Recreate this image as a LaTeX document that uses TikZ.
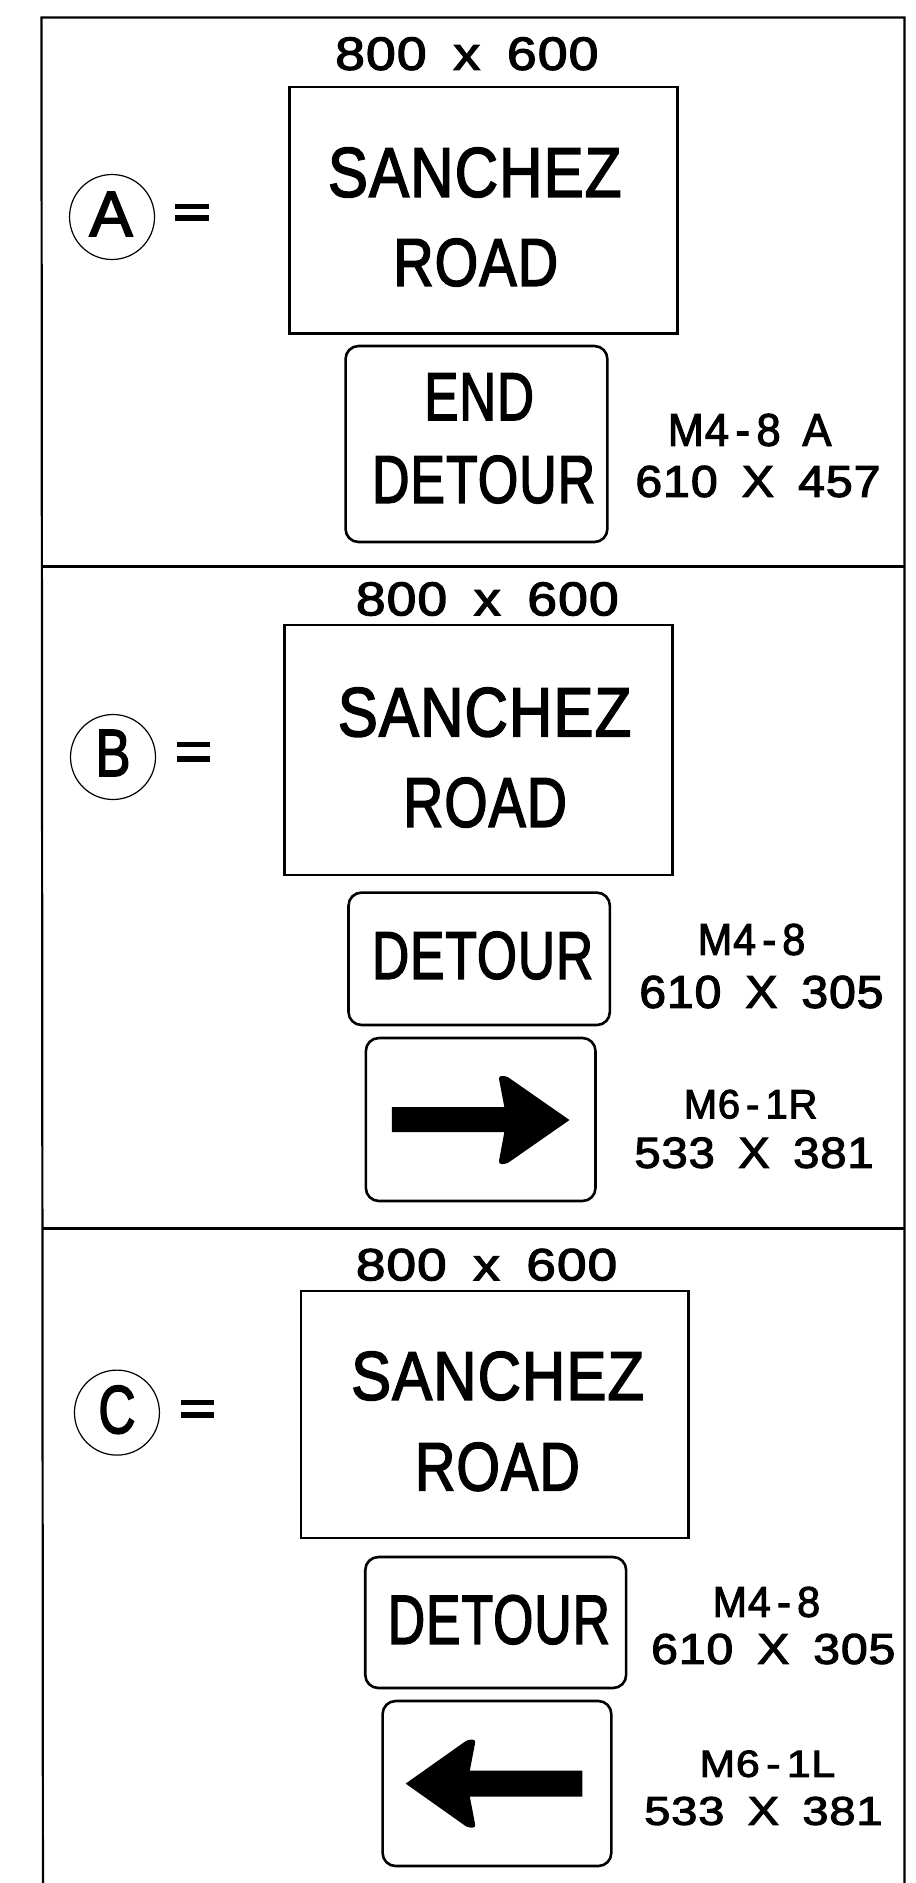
\documentclass[tikz,border=0pt]{standalone}
\usepackage{graphicx}
\usepackage{fontspec}
\setmainfont[FakeBold=2.5,LetterSpace=2]{Liberation Sans}
\newcommand{\lbl}[6]{\node[lab] (#1) at ({(#2+#3)/2+1},{(#4+#5)/2}) {\resizebox{\dimexpr (#3pt-#2pt)*1005/1000\relax}{\dimexpr #5pt-#4pt\relax}{#6}};}
\newcommand{\sgn}[6]{\node[#6,minimum width=\dimexpr (#3pt-#2pt)*990/1000\relax,minimum height=\dimexpr #5pt-#4pt\relax] (#1) at ({(#2+#3)/2},{(#4+#5)/2}) {};}
\newcommand{\gap}{\hspace{0.5em}}
\newcommand{\hy}{\hspace{0.15em}-\hspace{0.15em}}
\tikzset{
  lab/.style={inner sep=0pt,outer sep=0pt,font=\fontsize{40pt}{40pt}\selectfont},
  plate/.style={draw,rectangle,inner sep=0pt,line width=2.8pt},
  roundplate/.style={plate,rounded corners=13pt,line width=2.6pt},
  badge/.style={draw,circle,inner sep=0pt,line width=1.2pt},
  framing/.style={line width=2.2pt,line cap=butt},
  bar/.style={fill=black,draw=none,rectangle,inner sep=0pt},
}
\begin{document}
\begin{tikzpicture}[x=0.987pt,y=-1pt]
\useasboundingbox[fill=white] (0,0) rectangle (928.06,1883);
% frame
\draw[framing] (43.5,1883) -- (42,17.5) -- (916.5,17.5) -- (916.5,1883);
\draw[framing] (42,566.5) -- (916.5,566.5);
\draw[framing] (43,1228.5) -- (916.5,1228.5);

% ---- A
\lbl{dimA}{341}{603}{37.5}{70}{800\gap x\gap 600}
\sgn{plateA}{294}{686}{87}{333.5}{plate}
\lbl{nameA}{334}{626}{148}{197}{SANCHEZ}
\lbl{roadA}{399}{563}{239}{286}{ROAD}
\node[badge,minimum width=85pt] (circA) at (113.5,217) {};
\lbl{letA}{90}{133}{192}{236}{A}
\node[bar,minimum width=34pt,minimum height=5pt] (eqA1) at (195,206.5) {};
\node[bar,minimum width=34pt,minimum height=6pt] (eqA2) at (195,218) {};
\sgn{endA}{350.5}{615}{346}{542}{roundplate}
\lbl{endtA}{430}{539}{373.5}{420}{END}
\lbl{detA}{378}{600}{456}{503}{DETOUR}
\lbl{codeA}{677}{840}{414}{446}{M4\hy 8\gap A}
\lbl{sizeA}{645}{889}{466}{497}{610\gap X\gap 457}

% ---- B
\lbl{dimB}{362}{623.5}{582.5}{615.5}{800\gap x\gap 600}
\sgn{plateB}{288.5}{681}{625}{875}{plate}
\lbl{nameB}{344}{636}{688}{736.5}{SANCHEZ}
\lbl{roadB}{409}{572}{778}{827}{ROAD}
\node[badge,minimum width=85pt] (circB) at (114.5,757) {};
\lbl{letB}{96}{131}{730}{776}{B}
\node[bar,minimum width=33pt,minimum height=5pt] (eqB1) at (196,744.5) {};
\node[bar,minimum width=33pt,minimum height=6pt] (eqB2) at (196,759) {};
\sgn{detbB}{353.5}{617.5}{892.6}{1025}{roundplate}
\lbl{detB}{378}{598}{932}{979}{DETOUR}
\lbl{codeB}{707}{814}{924}{955}{M4\hy 8}
\lbl{sizeB}{649}{892}{976}{1008}{610\gap X\gap 305}
\sgn{arrbB}{371}{603}{1038}{1201}{roundplate}
\fill (397,1107) -- (511,1107) [rounded corners=3pt] -- (505,1076) -- (513,1076) [sharp corners] -- (577,1120) [rounded corners=3pt] -- (513,1164) -- (505,1164) [sharp corners] -- (511,1132) -- (397,1132) -- cycle;
\lbl{codeB2}{693}{826}{1090}{1118.5}{M6\hy 1R}
\lbl{sizeB2}{644}{882}{1137.6}{1168}{533\gap X\gap 381}

% ---- C
\lbl{dimC}{362}{622}{1249}{1280.5}{800\gap x\gap 600}
\sgn{plateC}{305.5}{697}{1291}{1538}{plate}
\lbl{nameC}{357.5}{649}{1352}{1400}{SANCHEZ}
\lbl{roadC}{421}{585}{1443}{1490.6}{ROAD}
\node[badge,minimum width=85pt] (circC) at (118.5,1412.6) {};
\lbl{letC}{99}{136}{1386}{1433.5}{C}
\node[bar,minimum width=33pt,minimum height=5pt] (eqC1) at (200.5,1402.5) {};
\node[bar,minimum width=33pt,minimum height=6pt] (eqC2) at (200.5,1415) {};
\sgn{detbC}{370.5}{634}{1557}{1688}{roundplate}
\lbl{detC}{394}{615}{1595.5}{1644}{DETOUR}
\lbl{codeC}{722}{829}{1587}{1617}{M4\hy 8}
\lbl{sizeC}{661}{904}{1634}{1664}{610\gap X\gap 305}
\sgn{arrbC}{388}{619}{1701}{1866}{roundplate}
\fill (590,1770.6) -- (476,1770.6) [rounded corners=3pt] -- (482,1739.6) -- (474,1739.6) [sharp corners] -- (411,1783.6) [rounded corners=3pt] -- (474,1827.6) -- (482,1827.6) [sharp corners] -- (476,1796.6) -- (590,1796.6) -- cycle;
\lbl{codeC2}{709}{844}{1750.6}{1777}{M6\hy 1L}
\lbl{sizeC2}{654}{891}{1797}{1825}{533\gap X\gap 381}
\end{tikzpicture}
\end{document}
